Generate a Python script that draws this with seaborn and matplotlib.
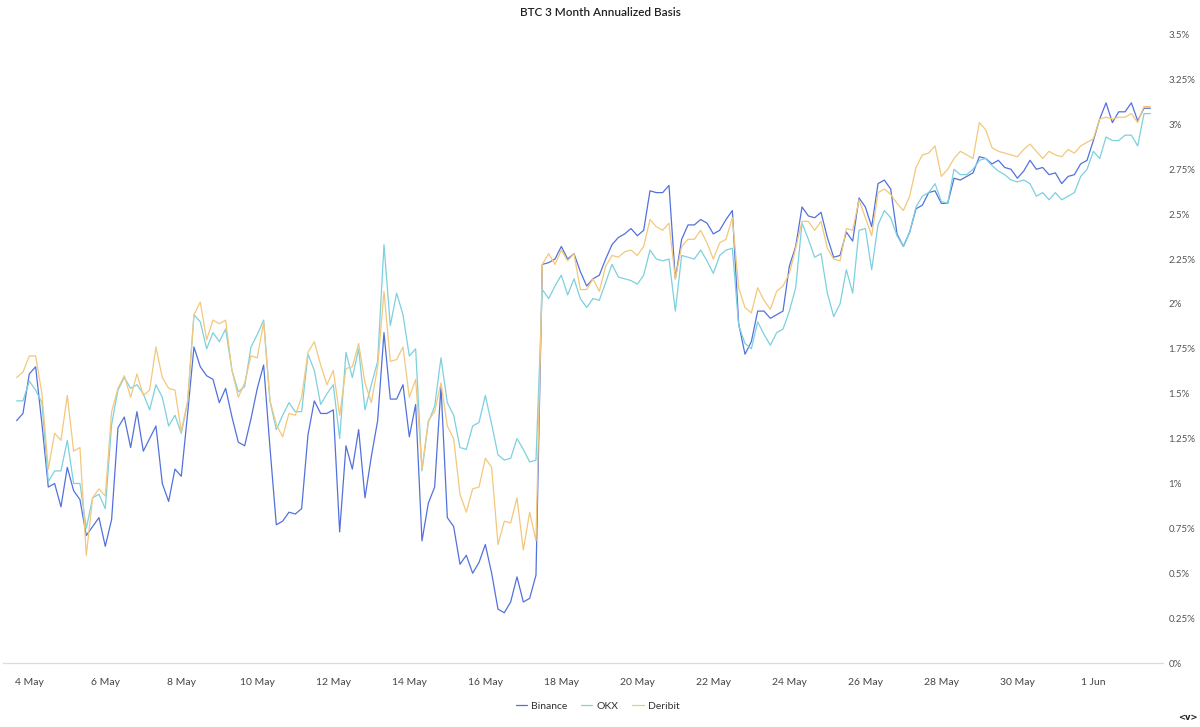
import pandas as pd
import numpy as np
import matplotlib.pyplot as plt
import matplotlib.dates as mdates
import seaborn as sns

# 4-hourly annualized 3M basis (%)
binance = [
    1.35, 1.39, 1.61, 1.65, 1.33, 0.98, 1.00, 0.87, 1.09, 0.96,
    0.91, 0.71, 0.76, 0.81, 0.65, 0.80, 1.31, 1.37, 1.20, 1.40,
    1.18, 1.25, 1.32, 1.00, 0.90, 1.08, 1.04, 1.39, 1.76, 1.65,
    1.60, 1.58, 1.45, 1.53, 1.37, 1.23, 1.21, 1.36, 1.53, 1.66,
    1.20, 0.77, 0.79, 0.84, 0.83, 0.86, 1.27, 1.46, 1.39, 1.39,
    1.41, 0.73, 1.21, 1.08, 1.30, 0.92, 1.15, 1.35, 1.84, 1.47,
    1.47, 1.55, 1.26, 1.44, 0.68, 0.89, 0.98, 1.54, 0.81, 0.76,
    0.55, 0.60, 0.50, 0.56, 0.66, 0.50, 0.30, 0.28, 0.34, 0.48,
    0.34, 0.36, 0.49, 2.22, 2.23, 2.25, 2.32, 2.25, 2.28, 2.18,
    2.10, 2.14, 2.16, 2.25, 2.33, 2.37, 2.39, 2.42, 2.38, 2.41,
    2.63, 2.62, 2.62, 2.66, 2.14, 2.36, 2.44, 2.44, 2.47, 2.45,
    2.39, 2.41, 2.47, 2.52, 1.89, 1.72, 1.79, 1.96, 1.96, 1.92,
    1.94, 1.96, 2.21, 2.32, 2.54, 2.49, 2.48, 2.51, 2.37, 2.26,
    2.27, 2.40, 2.35, 2.59, 2.54, 2.43, 2.67, 2.69, 2.64, 2.39,
    2.32, 2.40, 2.53, 2.55, 2.62, 2.63, 2.56, 2.56, 2.70, 2.69,
    2.71, 2.73, 2.82, 2.81, 2.78, 2.80, 2.76, 2.75, 2.70, 2.74,
    2.80, 2.75, 2.76, 2.72, 2.73, 2.67, 2.71, 2.72, 2.78, 2.80,
    2.91, 3.03, 3.12, 3.01, 3.07, 3.07, 3.12, 3.02, 3.09, 3.09,
]
okx = [
    1.46, 1.46, 1.57, 1.52, 1.45, 1.01, 1.07, 1.07, 1.24, 1.00,
    1.00, 0.75, 0.92, 0.94, 0.86, 1.33, 1.52, 1.59, 1.53, 1.55,
    1.50, 1.41, 1.55, 1.48, 1.32, 1.38, 1.28, 1.45, 1.94, 1.90,
    1.75, 1.84, 1.79, 1.86, 1.63, 1.51, 1.54, 1.76, 1.83, 1.91,
    1.46, 1.30, 1.38, 1.45, 1.40, 1.40, 1.72, 1.63, 1.44, 1.50,
    1.55, 1.25, 1.73, 1.59, 1.75, 1.41, 1.55, 1.68, 2.33, 1.88,
    2.06, 1.94, 1.71, 1.75, 1.07, 1.34, 1.43, 1.70, 1.45, 1.38,
    1.20, 1.19, 1.32, 1.34, 1.49, 1.33, 1.16, 1.13, 1.14, 1.25,
    1.19, 1.12, 1.13, 2.08, 2.03, 2.10, 2.16, 2.05, 2.14, 2.03,
    1.98, 2.03, 2.02, 2.12, 2.22, 2.15, 2.14, 2.13, 2.11, 2.16,
    2.30, 2.25, 2.24, 2.25, 1.96, 2.27, 2.26, 2.25, 2.30, 2.24,
    2.17, 2.27, 2.30, 2.31, 1.88, 1.78, 1.75, 1.90, 1.83, 1.77,
    1.84, 1.86, 1.96, 2.09, 2.45, 2.36, 2.26, 2.28, 2.06, 1.93,
    2.00, 2.19, 2.06, 2.41, 2.42, 2.19, 2.44, 2.52, 2.48, 2.38,
    2.32, 2.40, 2.54, 2.60, 2.62, 2.67, 2.57, 2.56, 2.75, 2.72,
    2.72, 2.75, 2.80, 2.81, 2.77, 2.74, 2.72, 2.69, 2.68, 2.69,
    2.67, 2.60, 2.62, 2.58, 2.62, 2.58, 2.60, 2.62, 2.71, 2.75,
    2.85, 2.81, 2.93, 2.91, 2.91, 2.94, 2.94, 2.88, 3.06, 3.06,
]
deribit = [
    1.59, 1.62, 1.71, 1.71, 1.50, 1.08, 1.28, 1.24, 1.49, 1.18,
    1.20, 0.60, 0.92, 0.97, 0.93, 1.40, 1.53, 1.60, 1.48, 1.61,
    1.49, 1.52, 1.76, 1.59, 1.53, 1.52, 1.29, 1.46, 1.94, 2.01,
    1.80, 1.91, 1.89, 1.91, 1.63, 1.48, 1.56, 1.71, 1.70, 1.90,
    1.46, 1.33, 1.26, 1.39, 1.38, 1.48, 1.73, 1.79, 1.66, 1.55,
    1.63, 1.38, 1.64, 1.65, 1.78, 1.56, 1.45, 1.65, 2.07, 1.68,
    1.69, 1.76, 1.48, 1.58, 1.08, 1.35, 1.40, 1.56, 1.32, 1.25,
    0.94, 0.84, 0.97, 0.98, 1.14, 1.09, 0.66, 0.79, 0.78, 0.92,
    0.63, 0.84, 0.68, 2.22, 2.28, 2.22, 2.30, 2.24, 2.28, 2.08,
    2.08, 2.14, 2.07, 2.21, 2.27, 2.26, 2.29, 2.30, 2.27, 2.32,
    2.47, 2.43, 2.41, 2.45, 2.14, 2.32, 2.36, 2.36, 2.41, 2.34,
    2.25, 2.34, 2.36, 2.48, 2.09, 1.98, 1.95, 2.09, 2.02, 1.97,
    2.07, 2.10, 2.17, 2.31, 2.46, 2.46, 2.41, 2.46, 2.31, 2.25,
    2.24, 2.42, 2.41, 2.58, 2.48, 2.38, 2.62, 2.64, 2.61, 2.56,
    2.52, 2.60, 2.76, 2.83, 2.84, 2.88, 2.71, 2.75, 2.81, 2.85,
    2.83, 2.81, 3.01, 2.97, 2.87, 2.85, 2.84, 2.83, 2.82, 2.86,
    2.89, 2.85, 2.81, 2.85, 2.83, 2.82, 2.86, 2.84, 2.88, 2.90,
    2.92, 3.03, 3.04, 3.03, 3.04, 3.04, 3.06, 3.01, 3.10, 3.10,
]

exchanges = ['Binance', 'OKX', 'Deribit']
colors = ['#5371dd', '#7dd0df', '#f2c87c']
times = pd.date_range('2024-05-03 16:00', periods=len(binance), freq='4h')
x_ticks = pd.date_range('2024-05-04', '2024-06-01', freq='2D')
y_ticks = [0, 0.25, 0.5, 0.75, 1, 1.25, 1.5, 1.75, 2, 2.25, 2.5, 2.75, 3, 3.25, 3.5]

df = pd.DataFrame({'time': times, 'Binance': binance, 'OKX': okx, 'Deribit': deribit})
df = df.melt(id_vars='time', var_name='exchange', value_name='basis')

sns.set_theme(style='white')
plt.rcParams['font.family'] = ['Lato', 'DejaVu Sans']

fig = plt.figure(figsize=(12, 7.27), dpi=100)
ax = fig.add_axes([0.0025, 0.088, 0.9667, 0.8644])

sns.lineplot(data=df, x='time', y='basis', hue='exchange', hue_order=exchanges,
             palette=dict(zip(exchanges, colors)), linewidth=0.9, ax=ax)

ax.set_xlim(times[0] - pd.Timedelta(hours=8.6), times[-1] + pd.Timedelta(hours=8))
ax.set_ylim(0, 3.5)
ax.set_xlabel('')
ax.set_ylabel('')

ax.set_xticks(x_ticks)
ax.xaxis.set_major_formatter(mdates.DateFormatter('%-d %b'))
ax.tick_params(axis='x', length=0, pad=11, labelsize=7.5, labelcolor='#444444')

ax.yaxis.tick_right()
ax.set_yticks(y_ticks)
ax.set_yticklabels([f'{v:g}%' for v in y_ticks])
ax.tick_params(axis='y', length=0, pad=4, labelsize=7, labelcolor='#555555')

for side in ['top', 'left', 'right']:
    ax.spines[side].set_visible(False)
ax.spines['bottom'].set_color('#dcdcdc')
ax.spines['bottom'].set_linewidth(0.9)
ax.grid(False)

handles, labels = ax.get_legend_handles_labels()
ax.get_legend().remove()
fig.legend(handles, labels, loc='center', bbox_to_anchor=(0.498, 1 - 706 / 727),
           ncol=3, frameon=False, fontsize=7.5, handlelength=1.1,
           handletextpad=0.4, columnspacing=1.3, labelcolor='#333333')

fig.text(0.5, 1 - 13 / 727, 'BTC 3 Month Annualized Basis', ha='center', va='center',
         fontsize=8.5, color='#222222', fontweight='semibold')
# small logo mark in the bottom-right corner
fig.text(1188 / 1200, 1 - 717 / 727, '<v>', ha='center', va='center',
         fontsize=6, color='#222222', fontweight='bold', family='DejaVu Sans')

fig.savefig('out.png', dpi=100)
